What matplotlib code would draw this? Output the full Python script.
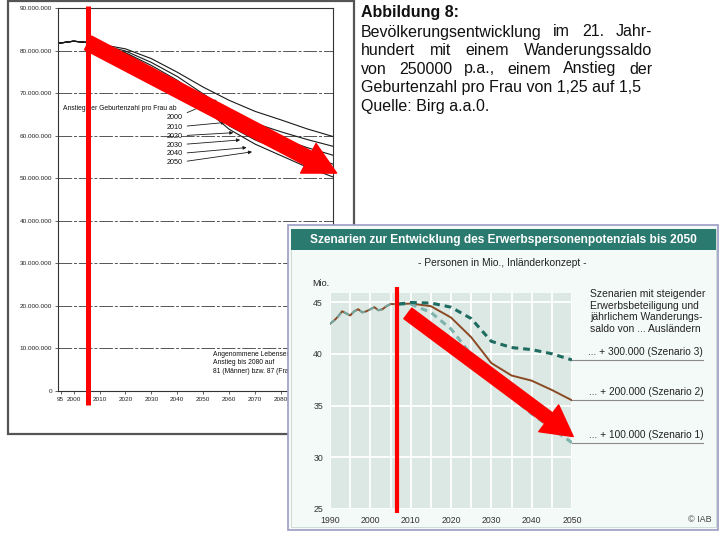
import matplotlib.pyplot as plt
from matplotlib.patches import Rectangle

plt.rcParams['font.family'] = ['Liberation Sans', 'DejaVu Sans']

# --- left chart (Birg): population, in millions, one curve per start year of rising birth rate
pop_years = [1994, 2000, 2005, 2010, 2020, 2030, 2040, 2050, 2060, 2070, 2080, 2090, 2100]
pop_2000 = [81.7, 82.2, 81.9, 81.5, 80.4, 78.1, 74.9, 71.4, 68.3, 65.7, 63.7, 61.6, 59.8]
pop_2010 = [81.7, 82.2, 81.9, 81.4, 79.9, 77.2, 73.9, 69.8, 65.7, 62.9, 60.9, 59.1, 57.5]
pop_2020 = [81.7, 82.2, 81.9, 81.3, 79.5, 76.5, 73.0, 68.8, 64.3, 61.5, 59.3, 57.2, 55.4]
pop_2030 = [81.7, 82.2, 81.9, 81.3, 79.3, 76.0, 72.3, 68.0, 63.2, 60.2, 57.8, 55.4, 53.3]
pop_2040 = [81.7, 82.2, 81.9, 81.2, 79.1, 75.7, 71.8, 67.3, 62.3, 59.0, 56.5, 53.9, 51.6]
pop_2050 = [81.7, 82.2, 81.9, 81.2, 79.0, 75.5, 71.5, 66.6, 61.5, 58.0, 55.3, 52.6, 50.3]
pop_curves = [pop_2000, pop_2010, pop_2020, pop_2030, pop_2040, pop_2050]
curve_labels = ['2000', '2010', '2020', '2030', '2040', '2050']
left_xticks = [1995, 2000, 2010, 2020, 2030, 2040, 2050, 2060, 2070, 2080, 2090]
left_xticklabels = ['95', '2000', '2010', '2020', '2030', '2040', '2050', '2060', '2070', '2080', '2090']

# --- right chart (IAB): labour force potential, Mio.
hist_years = list(range(1990, 2008))
hist_vals = [42.9, 43.2, 43.6, 44.1, 43.9, 43.7, 44.1, 44.3, 44.0, 44.1,
             44.3, 44.5, 44.2, 44.3, 44.6, 44.8, 44.8, 44.8]
scen_years = [2007, 2010, 2015, 2020, 2025, 2030, 2035, 2040, 2045, 2050]
scen1 = [44.8, 44.8, 44.0, 42.4, 39.9, 37.5, 35.8, 34.2, 32.8, 31.4]
scen2 = [44.8, 44.85, 44.6, 43.5, 41.6, 39.1, 37.9, 37.4, 36.5, 35.5]
scen3 = [44.8, 44.95, 44.9, 44.5, 43.4, 41.2, 40.6, 40.4, 40.0, 39.4]
scen_labels = ['... + 100.000 (Szenario 1)', '... + 200.000 (Szenario 2)',
               '... + 300.000 (Szenario 3)']

W, H = 720, 540
fig = plt.figure(figsize=(W / 100, H / 100), dpi=100)


def rect(x0, y0, x1, y1):
    # pixel box (from top left) -> figure fraction
    return [x0 / W, 1 - y1 / H, (x1 - x0) / W, (y1 - y0) / H]


def layer(z):
    a = fig.add_axes([0, 0, 1, 1], zorder=z)
    a.set_xlim(0, W)
    a.set_ylim(H, 0)
    a.axis('off')
    return a


def justified(ax, line, x0, x1, y, **kw):
    words = line.split()
    texts = [ax.text(x0, y, w, ha='left', va='center', **kw) for w in words]
    r = fig.canvas.get_renderer()
    widths = [t.get_window_extent(r).width for t in texts]
    gap = (x1 - x0 - sum(widths)) / (len(words) - 1)
    x = x0
    for t, w in zip(texts, widths):
        t.set_x(x)
        x += w + gap


bg = layer(0)
bg.add_patch(Rectangle((8, 1), 346, 433, fill=False, ec='#555555', lw=1.6))

# caption top right
bg.text(361, 13, 'Abbildung 8:', fontsize=11.5, fontweight='bold', va='center', color='#111')
para = ['Bevölkerungsentwicklung im 21. Jahr-',
        'hundert mit einem Wanderungssaldo',
        'von 250000 p.a., einem Anstieg der']
for i, line in enumerate(para):
    justified(bg, line, 361, 652, 32 + 18.5 * i, fontsize=11.5, color='#111')
bg.text(361, 87.5, 'Geburtenzahl pro Frau von 1,25 auf 1,5', fontsize=11.5, va='center', color='#111')
bg.text(361, 106, 'Quelle: Birg a.a.0.', fontsize=11.5, va='center', color='#111')

# ---------------- left chart
axl = fig.add_axes(rect(58, 8, 333, 391), zorder=1)
axl.set_facecolor('none')
for vals in pop_curves:
    axl.plot(pop_years, [v * 1e6 for v in vals], color='#1a1a1a', lw=0.8)
axl.set_xlim(1994, 2100)
axl.set_ylim(0, 90e6)
yt = [i * 10_000_000 for i in range(10)]
axl.set_yticks(yt)
axl.set_yticklabels([f'{v:,}'.replace(',', '.') for v in yt])
axl.set_xticks(left_xticks)
axl.set_xticklabels(left_xticklabels)
axl.tick_params(labelsize=4.6, length=2, width=0.5, pad=2, colors='#222')
axl.grid(axis='y', color='#555555', lw=0.7, ls=(0, (14, 2, 3, 2)))
for s in axl.spines.values():
    s.set_color('#333')
    s.set_linewidth(0.8)

axl.text(1996, 66.5e6, 'Anstieg der Geburtenzahl pro Frau ab', fontsize=4.9, va='center', color='#111')
label_ys = [64.2, 62.0, 59.9, 57.8, 55.7, 53.6]
tips = [(2055.2, 68.4), (2058.4, 63.1), (2061.6, 60.7), (2064.2, 59.0), (2066.7, 57.2), (2068.8, 56.2)]
for lab, ly, (tx, ty) in zip(curve_labels, label_ys, tips):
    axl.annotate(lab, xy=(tx, ty * 1e6), xytext=(2042.2, ly * 1e6), ha='right', va='center',
                 fontsize=5.2, color='#111',
                 arrowprops=dict(arrowstyle='-|>', color='#1a1a1a', lw=0.6,
                                 mutation_scale=5, shrinkA=1, shrinkB=0))
axl.text(2053.8, 9.4e6, 'Angenommene Lebenserwartung:\nAnstieg bis 2080 auf\n81 (Männer) bzw. 87 (Frauen)',
         fontsize=4.9, va='top', linespacing=1.3, color='#111')

axl.plot([2005.6, 2005.6], [90.5e6, -3.3e6], color='#ff0000', lw=3.6, clip_on=False,
         solid_capstyle='butt', zorder=4)
axl.annotate('', xy=(2101.4, 51.2e6), xytext=(2005.6, 81.8e6), annotation_clip=False,
             arrowprops=dict(arrowstyle='simple,head_length=23,head_width=24,tail_width=11',
                             mutation_scale=1, color='#ff0000', shrinkA=0, shrinkB=0,
                             clip_on=False), zorder=5)

# ---------------- right panel
panel = layer(2)
panel.add_patch(Rectangle((288, 225), 430, 305, fc='#f4faf8', ec='#9c9cc4', lw=1.2))
panel.add_patch(Rectangle((291, 229), 425, 298, fc='#f4faf8', ec='#cddbd5', lw=0.7))
panel.add_patch(Rectangle((291, 229), 425, 21, fc='#2b7a6f', ec='none'))
panel.text(503.5, 239.5, 'Szenarien zur Entwicklung des Erwerbspersonenpotenzials bis 2050',
           fontsize=8.6, fontweight='bold', color='white', ha='center', va='center')
panel.text(502, 263, '- Personen in Mio., Inländerkonzept -', fontsize=7.4, ha='center',
           va='center', color='#222')
panel.text(312, 283, 'Mio.', fontsize=6.5, va='center', color='#222')
panel.text(590, 289, 'Szenarien mit steigender\nErwerbsbeteiligung und\njährlichem Wanderungs-\nsaldo von ... Ausländern',
           fontsize=7.5, va='top', linespacing=1.2, color='#222')
panel.text(700, 520, '© IAB', fontsize=6.5, ha='center', va='center', color='#444')

axr = fig.add_axes(rect(330, 293, 572, 509), zorder=3)
axr.set_facecolor('#dce8e3')
axr.set_xlim(1990, 2050)
axr.set_ylim(25, 45.87)
axr.set_xticks(range(1990, 2051, 10))
axr.set_xticks(range(1995, 2050, 10), minor=True)
axr.set_yticks([25, 30, 35, 40, 45])
axr.grid(which='both', axis='x', color='white', lw=1.3)
axr.grid(axis='y', color='white', lw=1.3)
axr.set_axisbelow(True)
axr.tick_params(which='both', length=0, labelsize=6.3, colors='#333', pad=5)
for s in axr.spines.values():
    s.set_visible(False)

axr.plot(hist_years, hist_vals, color='#8b4a24', lw=1.4)
axr.plot(hist_years, hist_vals, color='#6fa8a2', lw=1.4, ls=(0, (3, 2)))
axr.plot(scen_years, scen2, color='#8b4a24', lw=1.4)
axr.plot(scen_years, scen1, color='#7fb3ad', lw=2.2, ls=(0, (2.2, 1.6)))
axr.plot(scen_years, scen3, color='#1e6b60', lw=2.2, ls=(0, (2.2, 1.6)))

for vals, lab in zip([scen1, scen2, scen3], scen_labels):
    axr.plot([2050, 2082.5], [vals[-1], vals[-1]], color='#8a8a8a', lw=0.8, clip_on=False)
    axr.text(2082.5, vals[-1] + 0.3, lab, fontsize=7.3, ha='right', va='bottom', color='#222')

axr.plot([2006.5, 2006.5], [46.45, 24.6], color='#ff0000', lw=3, clip_on=False,
         solid_capstyle='butt', zorder=4)
axr.annotate('', xy=(2050.3, 32.0), xytext=(2009.3, 43.9), annotation_clip=False,
             arrowprops=dict(arrowstyle='simple,head_length=22,head_width=24,tail_width=9.5',
                             mutation_scale=1, color='#ff0000', shrinkA=0, shrinkB=0,
                             clip_on=False), zorder=5)

fig.savefig('out.png', dpi=100)
